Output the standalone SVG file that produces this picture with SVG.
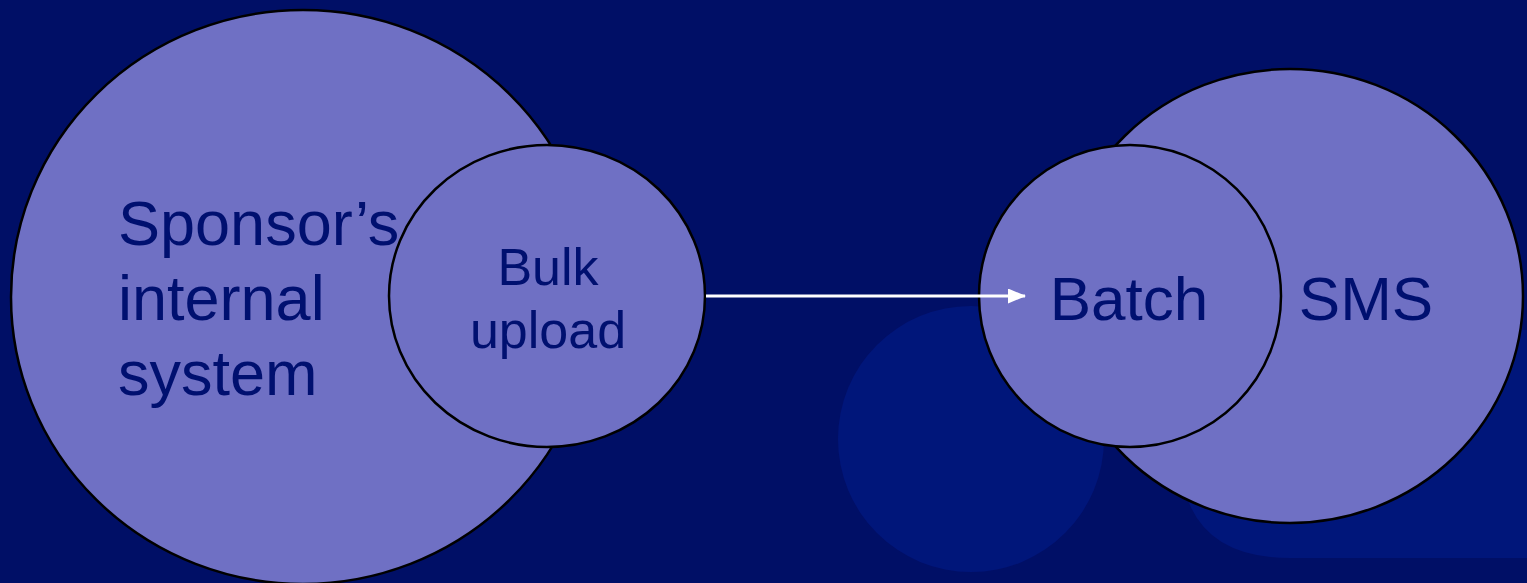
<svg xmlns="http://www.w3.org/2000/svg" width="1527" height="583" viewBox="0 0 1527 583">
<style>
.node{fill:#6F70C4;stroke:#000;stroke-width:2.5}
.lbl{font-family:"Liberation Sans",Arial,sans-serif;fill:#001070}
.bgs{fill:#00167A}
</style>
<defs>
<marker id="ah" markerWidth="18" markerHeight="16" refX="17" refY="7.5" orient="auto" markerUnits="userSpaceOnUse">
<polygon points="0,0 18,7.5 0,15" fill="#fff"/>
</marker>
</defs>
<rect width="1527" height="583" fill="#000F66"/>
<g id="background">
<circle class="bgs" cx="971" cy="439" r="133"/>
<path class="bgs" d="M1180,330 L1527,330 L1527,558 L1290,558 Q1180,558 1180,450 Z"/>
</g>
<g id="sponsor">
<ellipse class="node" cx="303" cy="297" rx="292" ry="287"/>
<text class="lbl" font-size="63" x="118" y="245">Sponsor’s</text>
<text class="lbl" font-size="63" x="118" y="320">internal</text>
<text class="lbl" font-size="63" x="118" y="395">system</text>
</g>
<g id="bulk">
<ellipse class="node" cx="547" cy="296" rx="158" ry="151"/>
<text class="lbl" font-size="52" x="548" y="285" text-anchor="middle">Bulk</text>
<text class="lbl" font-size="52" x="548" y="348" text-anchor="middle">upload</text>
</g>
<g id="sms">
<ellipse class="node" cx="1290" cy="296" rx="233" ry="227"/>
<text class="lbl" font-size="62" x="1366" y="320" text-anchor="middle">SMS</text>
</g>
<g id="batch">
<ellipse class="node" cx="1130" cy="296" rx="151" ry="151"/>
<text class="lbl" font-size="62" x="1129" y="320" text-anchor="middle">Batch</text>
</g>
<g id="connectors">
<line x1="706" y1="296" x2="1025" y2="296" stroke="#fff" stroke-width="3" marker-end="url(#ah)"/>
</g>
</svg>
